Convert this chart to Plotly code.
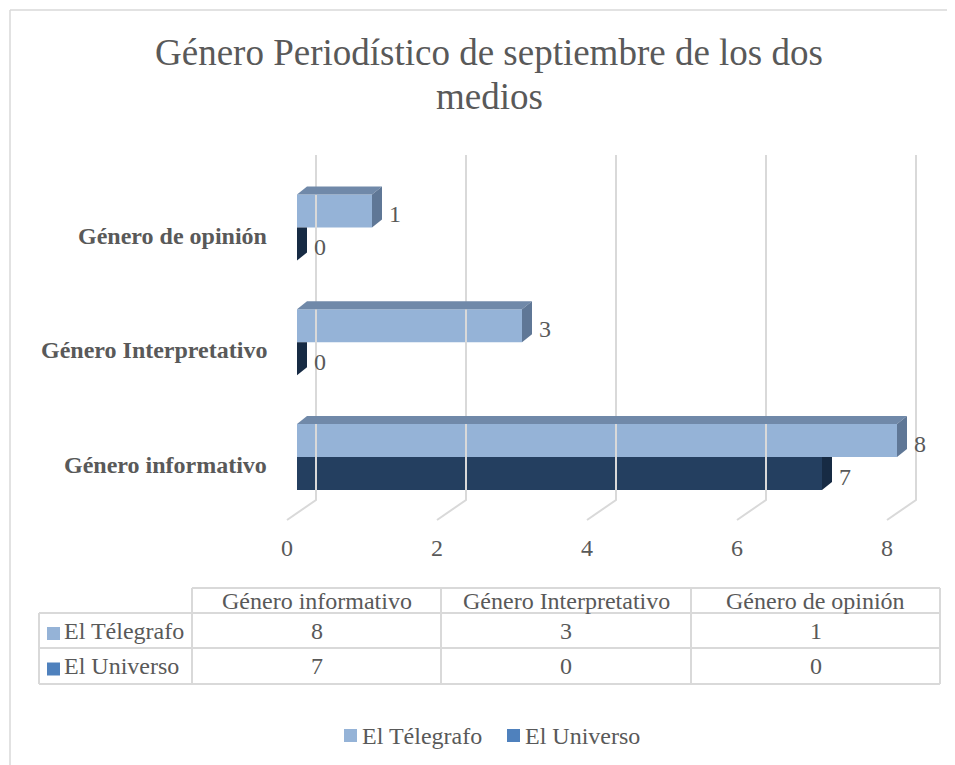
import plotly.graph_objects as go

# ---------------- data ----------------
categories = ["Género informativo", "Género Interpretativo", "Género de opinión"]
series_names = ["El Télegrafo", "El Universo"]
telegrafo = [8, 3, 1]
universo = [7, 0, 0]
x_ticks = [0, 2, 4, 6, 8]
title_lines = ["Género Periodístico de septiembre de los dos", "medios"]

# ---------------- styling ----------------
W, H = 955, 765
OFF = 8  # page body margin: figure starts 8px in from the window edge
FONT = "Liberation Serif"
TXT = "#595959"
GRID = "#D9D9D9"
C_TEL_FRONT, C_TEL_TOP, C_TEL_SIDE = "#95B3D7", "#7089A9", "#5F7796"
C_UNI_FRONT, C_UNI_SIDE = "#243F60", "#172B44"
C_TEL_LEG, C_UNI_LEG = "#95B3D7", "#4F81BD"

# page-pixel geometry of the (pseudo 3D) plot
X0, SX = 297.0, 75.0      # page px of value 0 (bar front), px per unit
Y0, SY = 457.0, 114.75    # page px of first category centre, px per category
BAR_W = 33.0 / SY
DX, DY = 10.0 / SX, 8.0 / SY


def ypx(p):  # page pixel row -> y data value
    return (Y0 - p) / SY


def xpx(p):  # page pixel column -> x data value
    return (p - X0) / SX


def px(x):  # page px -> paper x
    return (x - OFF) / W


def py(y):  # page px -> paper y
    return 1 - (y - OFF) / H


fig = go.Figure()

yc = list(range(len(categories)))

# front faces
fig.add_trace(go.Bar(y=yc, x=universo, orientation="h", width=BAR_W, offset=-BAR_W,
                     marker=dict(color=C_UNI_FRONT, line=dict(width=0)),
                     name=series_names[1], showlegend=False, hoverinfo="x+name"))
fig.add_trace(go.Bar(y=yc, x=telegrafo, orientation="h", width=BAR_W, offset=0,
                     marker=dict(color=C_TEL_FRONT, line=dict(width=0)),
                     name=series_names[0], showlegend=False, hoverinfo="x+name"))

# gridlines (back wall + floor), built from ticks
gx, gy = [], []
for t in x_ticks:
    gx += [t + 19 / SX, t + 19 / SX, t - 10 / SX, None]
    gy += [ypx(155), ypx(500), ypx(520), None]
fig.add_trace(go.Scatter(x=gx, y=gy, mode="lines", line=dict(color=GRID, width=2),
                         hoverinfo="skip", showlegend=False))

# Universo side faces (part not hidden by the Telégrafo bar)
for i, (u, t) in enumerate(zip(universo, telegrafo)):
    top = i if t >= u + DX else i + DY
    xs = [u, u + DX, u + DX, u, u]
    ys = [i - BAR_W, i - BAR_W + DY, top, i, i - BAR_W]
    fig.add_trace(go.Scatter(x=xs, y=ys, fill="toself", fillcolor=C_UNI_SIDE, mode="lines",
                             line=dict(width=0, color=C_UNI_SIDE), hoverinfo="skip",
                             showlegend=False))

# Telégrafo top and side faces
for i, t in enumerate(telegrafo):
    xs = [0, t, t + DX, DX, 0]
    ys = [i + BAR_W, i + BAR_W, i + BAR_W + DY, i + BAR_W + DY, i + BAR_W]
    fig.add_trace(go.Scatter(x=xs, y=ys, fill="toself", fillcolor=C_TEL_TOP, mode="lines",
                             line=dict(width=0, color=C_TEL_TOP), hoverinfo="skip",
                             showlegend=False))
    xs = [t, t + DX, t + DX, t, t]
    ys = [i, i + DY, i + BAR_W + DY, i + BAR_W, i]
    fig.add_trace(go.Scatter(x=xs, y=ys, fill="toself", fillcolor=C_TEL_SIDE, mode="lines",
                             line=dict(width=0, color=C_TEL_SIDE), hoverinfo="skip",
                             showlegend=False))

ann = []
f24 = dict(family=FONT, size=24, color=TXT)

# data labels
for i, (t, u) in enumerate(zip(telegrafo, universo)):
    ann.append(dict(x=t, y=i + BAR_W / 2, xref="x", yref="y", text=str(t), showarrow=False,
                    xanchor="left", yanchor="middle", xshift=15, yshift=-3, font=f24))
    ann.append(dict(x=u, y=i - BAR_W / 2, xref="x", yref="y", text=str(u), showarrow=False,
                    xanchor="left", yanchor="middle", xshift=15, yshift=-3, font=f24))

# category labels
for i, c in enumerate(categories):
    ann.append(dict(x=px(269), y=i, xref="paper", yref="y", text="<b>%s</b>" % c,
                    showarrow=False, xanchor="right", yanchor="middle", yshift=-8, font=f24))

# x tick labels
for t in x_ticks:
    ann.append(dict(x=t - 10 / SX, y=ypx(548), xref="x", yref="y", text=str(t),
                    showarrow=False, xanchor="center", yanchor="middle", font=f24))

# title
for k, (line, yy) in enumerate(zip(title_lines, [52, 96])):
    ann.append(dict(x=px(489), y=py(yy), xref="paper", yref="paper", text=line,
                    showarrow=False, xanchor="center", yanchor="middle",
                    font=dict(family=FONT, size=37, color=TXT)))

shapes = []
# outer chart border (left + top visible)
shapes.append(dict(type="line", xref="paper", yref="paper", x0=px(10), x1=px(960),
                   y0=py(10), y1=py(10), line=dict(color=GRID, width=1.5)))
shapes.append(dict(type="line", xref="paper", yref="paper", x0=px(10), x1=px(10),
                   y0=py(10), y1=py(770), line=dict(color=GRID, width=1.5)))

# data table
col_x = [39, 192, 441, 691, 940]
row_y = [588, 613, 648, 684]
tl = dict(color=GRID, width=2)
shapes.append(dict(type="line", xref="paper", yref="paper", x0=px(col_x[1]), x1=px(col_x[-1]),
                   y0=py(row_y[0]), y1=py(row_y[0]), line=tl))
for r in row_y[1:]:
    shapes.append(dict(type="line", xref="paper", yref="paper", x0=px(col_x[0]), x1=px(col_x[-1]),
                       y0=py(r), y1=py(r), line=tl))
shapes.append(dict(type="line", xref="paper", yref="paper", x0=px(col_x[0]), x1=px(col_x[0]),
                   y0=py(row_y[1]), y1=py(row_y[-1]), line=tl))
for c in col_x[1:]:
    shapes.append(dict(type="line", xref="paper", yref="paper", x0=px(c), x1=px(c),
                       y0=py(row_y[0]), y1=py(row_y[-1]), line=tl))

for j, c in enumerate(categories):
    cx = (col_x[j + 1] + col_x[j + 2]) / 2
    ann.append(dict(x=px(cx), y=py((row_y[0] + row_y[1]) / 2), xref="paper", yref="paper",
                    text=c, showarrow=False, xanchor="center", yanchor="middle", font=f24))
rows = [telegrafo, universo]
leg_cols = [C_TEL_LEG, C_UNI_LEG]
for r, vals in enumerate(rows):
    cy = (row_y[r + 1] + row_y[r + 2]) / 2
    shapes.append(dict(type="rect", xref="paper", yref="paper", x0=px(47), x1=px(60),
                       y0=py(cy - 6.5 + 3), y1=py(cy + 6.5 + 3), fillcolor=leg_cols[r],
                       line=dict(width=0)))
    ann.append(dict(x=px(62), y=py(cy), xref="paper", yref="paper", text=series_names[r],
                    showarrow=False, xanchor="left", yanchor="middle", font=f24))
    for j, v in enumerate(vals):
        cx = (col_x[j + 1] + col_x[j + 2]) / 2
        ann.append(dict(x=px(cx), y=py(cy), xref="paper", yref="paper", text=str(v),
                        showarrow=False, xanchor="center", yanchor="middle", font=f24))

# bottom legend
leg_items = [(344, series_names[0], C_TEL_LEG), (507, series_names[1], C_UNI_LEG)]
for lx, name, col in leg_items:
    shapes.append(dict(type="rect", xref="paper", yref="paper", x0=px(lx), x1=px(lx + 13),
                       y0=py(729), y1=py(742), fillcolor=col, line=dict(width=0)))
    ann.append(dict(x=px(lx + 16), y=py(736), xref="paper", yref="paper", text=name,
                    showarrow=False, xanchor="left", yanchor="middle", font=f24))

fig.update_layout(
    width=W, height=H,
    margin=dict(l=0, r=0, t=0, b=0),
    paper_bgcolor="white", plot_bgcolor="white",
    barmode="overlay",
    showlegend=False,
    xaxis=dict(range=[xpx(OFF), xpx(OFF + W)], domain=[0, 1], visible=False, fixedrange=True),
    yaxis=dict(range=[ypx(OFF + H), ypx(OFF)], domain=[0, 1], visible=False, fixedrange=True),
    annotations=ann,
    shapes=shapes,
    font=dict(family=FONT, color=TXT),
)

fig.write_html("out.html")
